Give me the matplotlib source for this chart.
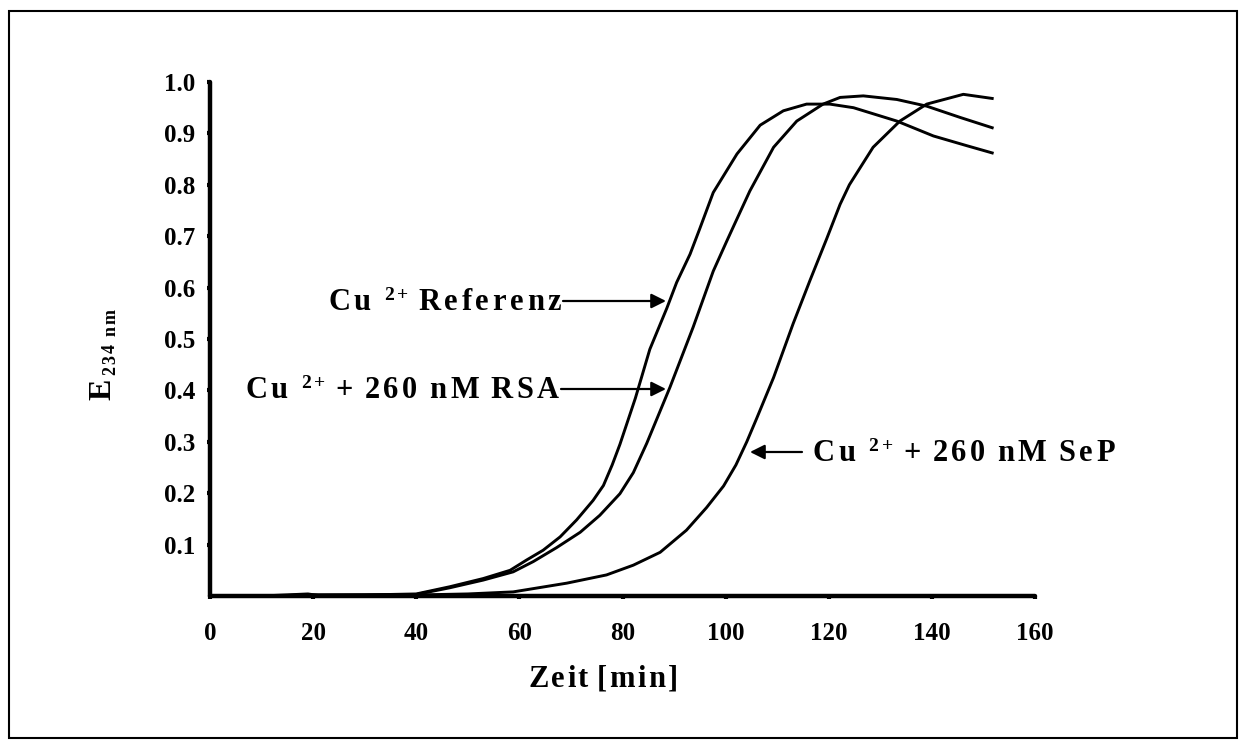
"""
Conjugated-diene formation (E 234 nm) over time for Cu2+ oxidation,
reference vs. with 260 nM RSA and 260 nM SeP.
"""

import matplotlib
matplotlib.use("Agg")
import matplotlib.pyplot as plt
from matplotlib.patches import Rectangle
from matplotlib.transforms import offset_copy

SERIF = ["Liberation Serif", "DejaVu Serif"]

# --- data ---
ref_time = [0, 10, 19, 21, 30, 40, 46.5, 53.0, 58.2, 61.4, 64.6, 67.9, 71.1, 74.3,
            76.3, 78.0, 79.5, 82.5, 85.3, 88.6, 90.5, 93.1, 95.0, 97.6, 102.2,
            106.7, 111.2, 115.7, 120.2, 124.8, 133.2, 140.3, 146.8, 151.7]
ref_e234 = [0, 0, 0.004, 0.001, 0.002, 0.004, 0.018, 0.034, 0.050, 0.070, 0.089,
            0.115, 0.148, 0.186, 0.215, 0.255, 0.295, 0.385, 0.480, 0.560, 0.610,
            0.665, 0.715, 0.785, 0.860, 0.916, 0.944, 0.957, 0.957, 0.950, 0.924,
            0.895, 0.876, 0.862]

rsa_time = [0, 10, 20, 30, 40, 46.5, 53.0, 58.8, 62.7, 67.2, 71.8, 75.6, 79.5,
            82.1, 84.7, 89.2, 93.7, 97.6, 100.2, 101.8, 104.7, 109.3,
            113.8, 118.9, 122.2, 126.7, 133.2, 139.0, 145.5, 151.7]
rsa_e234 = [0, 0, 0.002, 0.002, 0.003, 0.016, 0.031, 0.047, 0.067, 0.094, 0.124,
            0.157, 0.199, 0.240, 0.297, 0.406, 0.523, 0.632, 0.690, 0.725,
            0.788, 0.873, 0.924, 0.957, 0.970, 0.973, 0.966, 0.953, 0.931, 0.911]

sep_time = [0, 10, 20, 30, 40, 50, 58.8, 69.2, 76.9, 82.1, 87.3, 92.4, 96.3,
            99.6, 102.0, 104.1, 106.0, 109.3, 113.1, 116.4, 119.6, 122.2,
            124.0, 128.6, 133.8, 139.0, 146.1, 151.7]
sep_e234 = [0, 0, 0.002, 0.002, 0.002, 0.004, 0.008, 0.025, 0.041, 0.060, 0.085,
            0.128, 0.172, 0.214, 0.255, 0.300, 0.345, 0.425, 0.530, 0.615,
            0.695, 0.762, 0.800, 0.873, 0.924, 0.957, 0.976, 0.968]

x_ticks = [0, 20, 40, 60, 80, 100, 120, 140, 160]
y_ticks = [0.1, 0.2, 0.3, 0.4, 0.5, 0.6, 0.7, 0.8, 0.9, 1.0]


def spaced_text(ax, x, y, pieces, transform=None, align="left",
                tracking=3.0, vertical=False):
    """Draw letter-spaced bold serif text char by char.

    pieces: list of (word, fontsize, rise_px, gap_px_after).
    """
    fig = ax.figure
    renderer = fig.canvas.get_renderer()
    base = transform if transform is not None else ax.transData
    placed = []
    cursor = 0.0
    last_gap = 0.0
    for word, size, rise, gap in pieces:
        for ch in word:
            t = ax.text(x, y, ch, fontsize=size, fontweight="bold", family=SERIF,
                        ha="left", va="baseline", rotation=90 if vertical else 0,
                        rotation_mode="anchor", transform=base, clip_on=False)
            bb = t.get_window_extent(renderer)
            w = bb.height if vertical else bb.width
            placed.append((t, cursor, rise))
            cursor += w + tracking
        cursor += gap - tracking
        last_gap = gap
    total = cursor - last_gap
    shift = -total if align == "right" else 0.0
    for t, pos, rise in placed:
        if vertical:
            dx, dy = -rise, pos + shift
        else:
            dx, dy = pos + shift, rise
        t.set_transform(offset_copy(base, fig=fig, x=dx, y=dy, units="dots"))


fig = plt.figure(figsize=(12.45, 7.47), dpi=100)
ax = fig.add_axes([210 / 1245, 1 - 596 / 747, 825 / 1245, 514 / 747])

for xs, ys in [(ref_time, ref_e234), (rsa_time, rsa_e234), (sep_time, sep_e234)]:
    ax.plot(xs, ys, color="black", lw=2.1, clip_on=False, zorder=3)

ax.set_xlim(0, 160)
ax.set_ylim(0, 1.0)
ax.set_xticks(x_ticks)
ax.set_yticks(y_ticks)
ax.set_xticklabels([str(v) for v in x_ticks])
ax.set_yticklabels([f"{v:.1f}" for v in y_ticks])
for lab in ax.get_xticklabels() + ax.get_yticklabels():
    lab.set_family(SERIF)
    lab.set_fontweight("bold")
    lab.set_fontsize(18)
ax.tick_params(axis="both", direction="out", length=2, width=3, color="black")
ax.tick_params(axis="y", pad=8.5)
ax.tick_params(axis="x", pad=17)

for side in ["top", "right"]:
    ax.spines[side].set_visible(False)
for side in ["left", "bottom"]:
    ax.spines[side].set_linewidth(3.2)
    ax.spines[side].set_capstyle("round")

# labels
spaced_text(ax, 0.386, -0.177, [("Zeit", 22, 0, 9), ("[min]", 22, 0, 0)],
            transform=ax.transAxes, tracking=2.3)
spaced_text(ax, -0.121, 0.381, [("E", 23, 0, 4), ("234", 13, -5, 8), ("nm", 13, -5, 0)],
            transform=ax.transAxes, tracking=2.0, vertical=True)

# annotations
px = 160 / 825  # data units per pixel along x
arrow = dict(arrowstyle="-|>", color="black", lw=1.6, mutation_scale=22,
             shrinkA=0, shrinkB=0)
cu = [("Cu", 22, 0, 13), ("2+", 14, 10, 10)]
tr = 3.6

spaced_text(ax, (561 - 210) * px, (596 - 310) / 514,
            cu + [("Referenz", 22, 0, 0)], align="right", tracking=tr)
ax.annotate("", xy=((666 - 210) * px, (596 - 301) / 514),
            xytext=((563 - 210) * px, (596 - 301) / 514), arrowprops=arrow)

spaced_text(ax, (559 - 210) * px, (596 - 398) / 514,
            cu + [("+", 22, 0, 12), ("260", 22, 0, 12), ("nM", 22, 0, 12),
                  ("RSA", 22, 0, 0)], align="right", tracking=tr)
ax.annotate("", xy=((666 - 210) * px, (596 - 389) / 514),
            xytext=((561 - 210) * px, (596 - 389) / 514), arrowprops=arrow)

spaced_text(ax, (813 - 210) * px, (596 - 461) / 514,
            cu + [("+", 22, 0, 12), ("260", 22, 0, 12), ("nM", 22, 0, 12),
                  ("SeP", 22, 0, 0)], tracking=tr)
ax.annotate("", xy=((750 - 210) * px, (596 - 452) / 514),
            xytext=((802 - 210) * px, (596 - 452) / 514), arrowprops=arrow)

# outer frame
fig.patches.append(Rectangle((9 / 1245, 1 - 738 / 747), 1228 / 1245, 727 / 747,
                             transform=fig.transFigure, fill=False,
                             edgecolor="black", lw=1.5))

fig.savefig("out.png", dpi=100)
